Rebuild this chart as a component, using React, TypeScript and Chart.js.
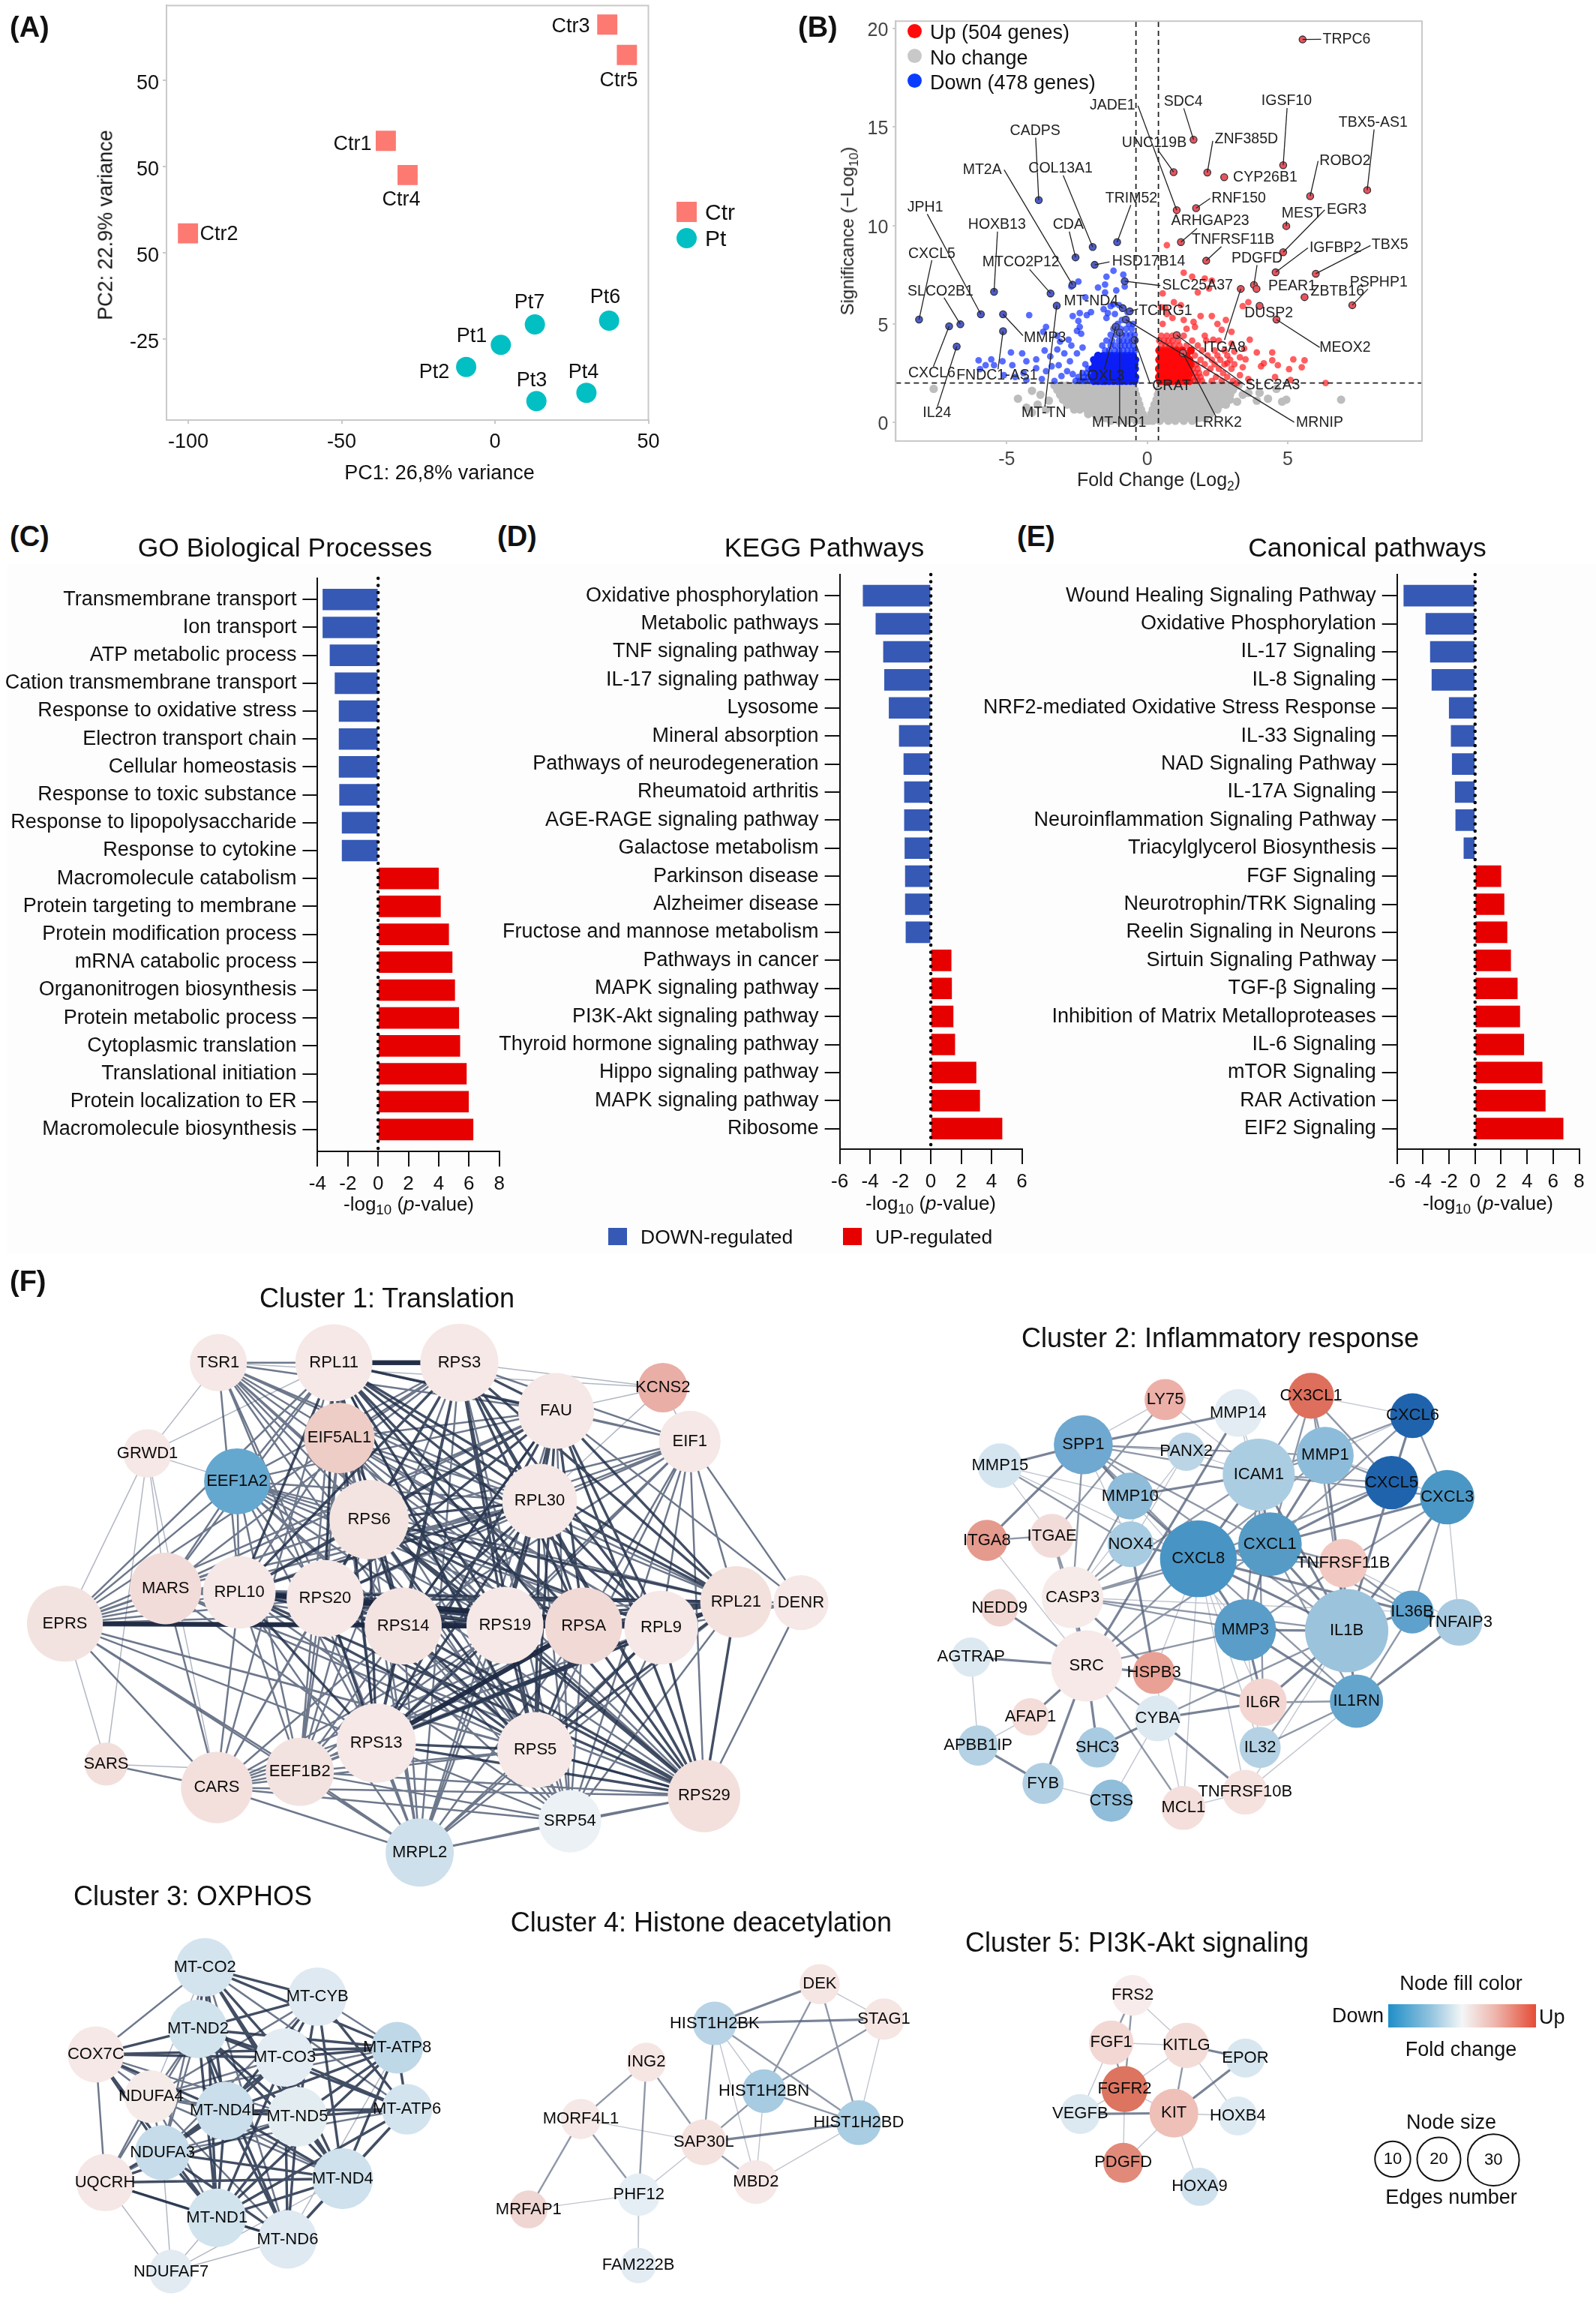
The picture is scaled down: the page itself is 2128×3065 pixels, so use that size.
import React, { useEffect, useRef } from "react";
import { Chart, registerables } from "chart.js";

Chart.register(...registerables);
const FONT = '"Liberation Sans", Arial, sans-serif';
Chart.defaults.font.family = FONT;

/* ---------- Panel A data ---------- */
const pcaCtrNames = ["Ctr1", "Ctr2", "Ctr3", "Ctr4", "Ctr5"];
const pcaCtrX = [-35.6, -100.1, 36.6, -28.5, 43.0];
const pcaCtrY = [32.4, 5.6, 66.1, 22.5, 57.3];
const pcaPtNames = ["Pt1", "Pt2", "Pt3", "Pt4", "Pt6", "Pt7"];
const pcaPtX = [1.9, -9.4, 13.5, 29.8, 37.2, 13];
const pcaPtY = [-26.7, -33.1, -43, -40.6, -19.7, -20.8];
const pcaXTicks = [-100, -50, 0, 50];
const pcaYTicks = [-25, 0, 25, 50];
const pcaYTickLabels = ["-25", "50", "50", "50"];

/* ---------- Panel B data ---------- */
const geneNames = ["TRPC6","SDC4","UNC119B","ZNF385D","CYP26B1","IGSF10","TBX5-AS1","ROBO2","JADE1","RNF150","ARHGAP23","MEST","EGR3","TNFRSF11B","IGFBP2","TBX5","PDGFD","PEAR1","ZBTB16","PSPHP1","DUSP2","MEOX2","ITGA8","SLC2A3","LRRK2","CADPS","MT2A","COL13A1","CDA","TRIM52","JPH1","HOXB13","CXCL5","SLCO2B1","MTCO2P12","HSD17B14","SLC25A37","MT-ND4","TCIRG1","MMP3","MT-TN","FNDC1-AS1","CXCL6","IL24","LOXL3","MT-ND1","CRAT","MRNIP"];
const geneFC = [5.53,1.65,0.94,2.14,2.74,4.84,7.83,5.8,1.05,1.74,1.2,4.95,4.84,2.1,4.57,6.0,3.8,3.89,5.6,7.3,4.0,4.6,3.33,1.05,1.27,-3.86,-2.66,-1.94,-2.55,-1.07,-5.92,-5.45,-8.12,-6.65,-3.44,-1.87,-0.8,-0.87,-0.62,-5.13,-3.22,-5.13,-7.05,-6.78,-1.12,-0.98,-0.45,-0.76];
const geneSig = [19.45,14.36,12.71,12.69,12.45,13.06,11.8,11.49,10.78,10.88,9.16,9.97,8.64,8.21,7.62,7.55,6.98,6.78,6.36,5.95,5.92,5.22,6.78,4.43,3.52,11.29,6.99,8.91,8.38,9.16,5.49,6.63,5.22,4.98,6.55,8.0,7.17,5.8,5.64,5.49,5.93,4.63,4.88,3.85,4.86,4.56,4.18,5.22];
const upRows: [number, number[]][] = [
  [2.1,[.45,.6,.75,.9,1.05,1.2,1.35,1.5,1.65,1.8,1.95,2.3,2.65,3.05]],
  [2.3,[.42,.55,.7,.85,1,1.15,1.3,1.45,1.6,1.75,1.9,2.45,2.85]],
  [2.5,[.48,.62,.78,.92,1.08,1.22,1.38,1.52,1.7,1.85,2.1,2.7]],
  [2.72,[.42,.57,.72,.87,1.02,1.17,1.32,1.48,1.62,1.8,2.25,2.55,3]],
  [2.95,[.5,.65,.8,.95,1.1,1.25,1.4,1.55,1.75,2.05,2.4,2.75,3.1]],
  [3.18,[.43,.58,.73,.88,1.03,1.18,1.33,1.5,1.9,2.3,2.6,2.95]],
  [3.4,[.5,.65,.8,.95,1.1,1.25,1.4,1.7,2.15,2.5,2.85]],
  [3.65,[.43,.58,.73,.88,1.05,1.25,1.55,1.95,2.4,2.75]],
  [3.9,[.5,.65,.8,.95,1.15,1.4,1.8]],
  [4.15,[.43,.6,.75,.9,1.1,1.6,2.1,2.55]],
  [4.4,[.5,.7,.9,1.3]],
];
const upSparse = [[.7,9],[1.3,7.6],[1.6,7.4],[2.05,7.3],[2.3,7.2],[2.2,6.8],[1.8,6.6],[.55,6.55],[.95,6.1],[.5,5.85],[1.2,5.95],[.65,5.8],[3.6,6.1],[3.4,5.9],[.7,5.5],[.9,5.3],[1.3,5.2],[1.65,5.1],[1.9,5.4],[2.3,5.4],[2.5,5],[2.8,5.2],[2.65,4.7],[.55,5],[1.4,4.75],[1.7,4.85],[2.05,4.4],[2.35,4.2],[3,4.6],[3,4],[3.65,4.2],[3.45,3.75],[3.3,3.3],[3.5,3.2],[2.85,3],[3.1,3.6],[3.9,3.55],[4.45,3.15],[4.45,3.55],[4.15,3],[4.05,2.85],[4.65,2.9],[5.2,3.2],[5.6,3.15],[5.05,2.7],[5.5,2.8],[4.55,2.3],[5.1,2.15],[6.35,2],[3.3,2.4],[3.6,2.2],[3.2,2],[3.4,2.8]];
const downRows: [number, number[]][] = [
  [2.1,[-2.55,-2.4,-2.3,-2.2,-2.05,-1.9,-1.75,-1.6,-1.5,-1.35,-1.2,-1.05,-.9,-.75,-.6,-.45]],
  [2.3,[-2.45,-2.25,-2.1,-1.95,-1.8,-1.65,-1.45,-1.3,-1.15,-1,-.85,-.7,-.55,-.42]],
  [2.5,[-2.3,-2.15,-2,-1.85,-1.7,-1.55,-1.4,-1.25,-1.1,-.95,-.8,-.65,-.5]],
  [2.72,[-2.1,-1.95,-1.75,-1.6,-1.45,-1.3,-1.15,-1,-.85,-.7,-.55,-.43]],
  [2.95,[-2.2,-1.85,-1.65,-1.5,-1.35,-1.2,-1.05,-.9,-.75,-.6,-.45]],
  [3.18,[-1.9,-1.7,-1.5,-1.3,-1.15,-1,-.85,-.7,-.55,-.42]],
  [3.4,[-1.75,-1.55,-1.4,-1.25,-1.1,-.95,-.8,-.65,-.5]],
  [3.65,[-1.5,-1.35,-1.15,-1,-.85,-.7,-.55,-.43]],
  [3.9,[-1.6,-1.3,-1.15,-.95,-.8,-.65,-.5]],
  [4.15,[-1.45,-1.25,-1,-.85,-.7,-.55,-.42]],
  [4.45,[-1.3,-1.1,-.9,-.75,-.6,-.45]],
  [4.75,[-1.2,-.95,-.75,-.55]],
  [5,[-1.05,-.65,-.5]],
];
const downSparse = [[-1.2,7.7],[-1.45,7.4],[-.85,7.5],[-1.5,7],[-2.45,7.15],[-2.7,6.9],[-.8,6.9],[-1.75,6.85],[-1.5,6.6],[-1.1,6.7],[-2.2,6.35],[-1.3,5.9],[-1.55,5.75],[-1.2,6],[-1,5.95],[-.7,5.6],[-1.4,5.55],[-1.15,5.5],[-.9,5.2],[-1.45,5.3],[-2,5.6],[-2.15,5.45],[-2.4,5.55],[-2.65,5.4],[-2.45,5.15],[-2.4,4.85],[-2.5,4.65],[-2.35,4.5],[-4.2,5.45],[-3.6,4.85],[-3.7,4.6],[-3.2,4.4],[-3.1,4.1],[-2.8,4.2],[-4.85,3.55],[-4.45,3.5],[-4.3,3.1],[-3.95,3.2],[-3.65,3.65],[-3.45,3.35],[-3.2,3.7],[-2.95,3.5],[-2.7,3.9],[-2.5,3.5],[-2.3,3.8],[-2.75,3.1],[-3.15,2.9],[-3.4,2.85],[-3.6,2.6],[-3.95,2.75],[-4.4,2.5],[-4.8,2.9],[-5.15,3.1],[-5.45,2.9],[-5.55,3.2],[-5.75,2.9],[-6,3.15],[-5.95,2.7],[-5.1,2.4],[-4.7,2.3],[-4.3,2.15],[-3.75,2.2],[-3.3,2.1],[-3.05,2.35],[-2.85,2.6],[-2.65,2.45]];
const noneRows: [number, number[]][] = [
  [1.88,[-3.3,-3.05,-2.85,-2.6,-2.4,-2.2,-2.05,-1.8,-1.6,-1.35,-1.15,-.95,-.7,-.5,.48,.65,.9,1.1,1.35,1.55,1.8,2,2.25,2.45,2.7,2.9,3.1,3.25]],
  [1.65,[-3.2,-3.05,-2.8,-2.6,-2.35,-2.15,-1.9,-1.7,-1.45,-1.25,-1,-.8,-.6,-.45,.42,.55,.8,1,1.25,1.45,1.7,1.9,2.15,2.35,2.6,2.8,3.05]],
  [1.4,[-3.1,-2.95,-2.7,-2.5,-2.25,-2.05,-1.8,-1.6,-1.35,-1.15,-.9,-.7,-.55,-.4,.38,.5,.7,.95,1.15,1.4,1.6,1.85,2.05,2.3,2.5,2.75,2.95]],
  [1.15,[-3,-2.85,-2.6,-2.4,-2.15,-1.95,-1.7,-1.5,-1.25,-1.05,-.8,-.6,-.45,-.33,.33,.42,.65,.85,1.1,1.3,1.55,1.75,2,2.2,2.45,2.7,2.95]],
  [.9,[-2.85,-2.7,-2.5,-2.25,-2.05,-1.8,-1.6,-1.35,-1.15,-.9,-.7,-.5,-.38,-.28,.26,.38,.55,.8,1,1.25,1.45,1.7,1.9,2.15,2.35,2.6,2.8]],
  [.65,[-2.6,-2.4,-2.15,-1.95,-1.7,-1.5,-1.25,-1.05,-.8,-.6,-.42,-.3,-.22,.2,.3,.5,.7,.95,1.15,1.4,1.6,1.85,2.05,2.3,2.5]],
  [.42,[-2.1,-1.85,-1.6,-1.4,-1.15,-.95,-.7,-.5,-.32,-.22,-.16,.14,.22,.45,.65,.9,1.1,1.35,1.55,1.8,2,2.25]],
  [.22,[-1.75,-1.5,-1.3,-1.1,-.9,-.65,-.45,-.25,-.14,.1,.25,.45,.65,.9,1.1,1.35,1.6,1.85,2.05]],
  [.08,[-1.3,-1,-.7,-.4,-.18,-.05,.05,.2,.45,.75,1,1.3,1.6]],
];
const noneSparse = [[-7.6,1.7],[-4.6,1.2],[-4.3,.75],[-4.1,.5],[-3.9,.9],[-4.1,1.6],[-3.8,1.4],[-3.5,1.1],[-3.6,.65],[6.9,1.15],[4.95,1.15],[4.8,1.05],[4.3,1.2],[4,1.5],[3.9,1.1],[3.6,1.5],[3.4,1.4],[4.6,1.7],[3.1,1.8],[3.2,1.05]];
const fcCutoffs = [-0.4, 0.4];
const sigCutoff = 2;
const volcanoXTicks = [-5, 0, 5];
const volcanoYTicks = [0, 5, 10, 15, 20];

/* label centre and leader end, in crop units of the panel (same order as geneNames) */
const geneLabelAt = [[1078,121,1028,121],[757,313,758,333],[700,440,708,463],[881,428,815,433],[918,545,0,0],[960,311,961,332],[1130,378,1132,398],[1075,494,1022,495],[618,325,668,325],[866,610,810,610],[810,680,784,702],[990,657,960,680],[1078,645,1035,645],[855,737,832,758],[1056,762,1002,762],[1163,754,1125,755],[902,795,902,815],[971,881,0,0],[1060,896,0,0],[1141,868,1120,888],[925,962,0,0],[1075,1068,1025,1068],[838,1068,838,1045],[933,1185,878,1183],[826,1300,821,1280],[466,402,467,423],[362,522,405,522],[516,519,521,539],[531,692,533,712],[655,610,654,630],[250,638,254,658],[391,692,392,712],[263,780,263,800],[280,896,287,915],[438,807,455,828],[689,805,612,805],[785,878,712,878],[576,925,620,928],[722,955,668,950],[485,1040,442,1032],[483,1270,485,1250],[391,1155,393,1135],[263,1147,266,1127],[273,1270,274,1250],[597,1156,602,1135],[631,1300,632,1282],[734,1186,692,1180],[1025,1300,975,1298]];

/* ---------- Panels C, D, E data ---------- */
const goCategories = ["Transmembrane transport","Ion transport","ATP metabolic process","Cation transmembrane transport","Response to oxidative stress","Electron transport chain","Cellular homeostasis","Response to toxic substance","Response to lipopolysaccharide","Response to cytokine","Macromolecule catabolism","Protein targeting to membrane","Protein modification process","mRNA catabolic process","Organonitrogen biosynthesis","Protein metabolic process","Cytoplasmic translation","Translational initiation","Protein localization to ER","Macromolecule biosynthesis"];
const goValues = [-3.65,-3.65,-3.18,-2.85,-2.58,-2.58,-2.58,-2.55,-2.38,-2.38,3.99,4.12,4.66,4.89,5.06,5.33,5.4,5.83,5.97,6.27];
const keggCategories = ["Oxidative phosphorylation","Metabolic pathways","TNF signaling pathway","IL-17 signaling pathway","Lysosome","Mineral absorption","Pathways of neurodegeneration","Rheumatoid arthritis","AGE-RAGE signaling pathway","Galactose metabolism","Parkinson disease","Alzheimer disease","Fructose and mannose metabolism","Pathways in cancer","MAPK signaling pathway","PI3K-Akt signaling pathway","Thyroid hormone signaling pathway","Hippo signaling pathway","MAPK signaling pathway","Ribosome"];
const keggValues = [-4.46,-3.62,-3.12,-3.05,-2.75,-2.08,-1.78,-1.74,-1.74,-1.71,-1.68,-1.68,-1.64,1.34,1.37,1.47,1.58,2.98,3.22,4.69];
const canonCategories = ["Wound Healing Signaling Pathway","Oxidative Phosphorylation","IL-17 Signaling","IL-8 Signaling","NRF2-mediated Oxidative Stress Response","IL-33 Signaling","NAD Signaling Pathway","IL-17A Signaling","Neuroinflammation Signaling Pathway","Triacylglycerol Biosynthesis","FGF Signaling","Neurotrophin/TRK Signaling","Reelin Signaling in Neurons","Sirtuin Signaling Pathway","TGF-β Signaling","Inhibition of Matrix Metalloproteases","IL-6 Signaling","mTOR Signaling","RAR Activation","EIF2 Signaling"];
const canonValues = [-5.48,-3.79,-3.44,-3.32,-1.99,-1.84,-1.76,-1.53,-1.49,-0.86,1.99,2.23,2.46,2.74,3.25,3.44,3.75,5.16,5.4,6.77];

/* ---------- Panel F data: name, layout x, layout y, size, fill ---------- */
type Node = [string, number, number, number, string];
const PALE = "#f5e8e6";
const c1Nodes: Node[] = [["TSR1",397,268,104,PALE],["RPL11",607,268,140,PALE],["RPS3",835,268,142,PALE],["KCNS2",1205,333,90,"#e9aea6"],["FAU",1011,394,138,PALE],["EIF1",1254,474,112,PALE],["EIF5AL1",617,465,128,"#eecdc7"],["GRWD1",268,505,88,PALE],["EEF1A2",431,578,120,"#64a8d0"],["RPS6",671,678,144,"#f4e4e1"],["RPL30",981,630,136,PALE],["MARS",301,858,130,"#f2dcd9"],["RPL10",435,868,132,PALE],["RPS20",591,884,140,PALE],["RPL21",1338,893,130,"#f3e1de"],["DENR",1456,895,100,PALE],["EPRS",118,950,138,"#f3e3e0"],["RPS14",733,956,140,"#f4e4e1"],["RPS19",918,954,140,PALE],["RPSA",1061,956,140,"#f1d9d6"],["RPL9",1202,960,134,PALE],["RPS13",684,1262,144,PALE],["RPS5",973,1280,138,PALE],["EEF1B2",545,1337,124,"#f3e3e0"],["SARS",193,1317,78,"#f2dfdc"],["CARS",394,1378,130,"#f3e0dd"],["RPS29",1280,1400,132,"#f3e0dd"],["SRP54",1036,1466,114,"#ecf1f5"],["MRPL2",763,1548,124,"#cde0ec"]];
const c1Heavy = "12:20 13:20 17:18 16:19 17:19 18:19 21:19 1:2";
const c1Thick = "1:4,9,10,12,13,14,17,18,19,20,21,22,26 2:4,9,10,12,13,14,17,18,19,20,21,22,26 4:9,10,12,13,14,17,18,19,20,21,22,26 9:10,12,13,14,17,18,19,20,21,22,26 10:12,13,14,17,18,19,20,21,22,26 12:13,14,17,18,19,21,22,26 13:14,17,18,19,21,22,26 14:17,18,19,20,21,22,26 17:20,21,22,26 18:20,21,22,26 19:20,22,26 20:21,22,26 21:22,26 22:26";
const c1Medium = "0:1,2,4,9,10,13,14,17,18,21,22,12,19,20,26 5:1,2,4,9,10,12,13,14,17,18,19,20,21,22,26,27 6:1,2,4,9,17,18,21,23,10,12,13,14,19,20,22,26 8:1,2,9,13,17,18,19,21,22,23,16,11,10,12,14,20,26,4 11:12,13,16,17,18,19,1,4,25,2,9,10,14,20,21,22,26 16:12,13,25,23,28,21,22,26,17,18,19,1,2,4,9,10,14,20 23:12,13,17,18,21,22,26,25,28,27,4,10,19,1,2,9,14,20 25:24,12,13,21,26,27,28,1,9,17,18,19,20,22,23 27:22,26,28,21,17,19,1,2,4,9,10,12,13,14,18,20 28:21,22,26,17,18,19,13,12,1,2,4,9,10,14,20,23 15:5,14,20,26,19,4";
const c1Thin = "3:2,4,5,10,0 7:0,1,8,16,11,25 24:16,7,23";
const c2Nodes: Node[] = [["LY75",647,286,88,"#ecb0a8"],["MMP14",803,321,102,"#e3ecf3"],["CX3CL1",959,276,98,"#de6f5d"],["CXCL6",1176,328,96,"#1f63ad"],["SPP1",472,404,126,"#6fa8d0"],["PANX2",692,422,82,"#bcd5e6"],["ICAM1",847,482,154,"#abcde2"],["MMP1",989,432,122,"#8cbcda"],["MMP15",294,459,96,"#d5e5ef"],["MMP10",572,538,100,"#8ebcd9"],["CXCL5",1131,503,114,"#1f63ad"],["CXCL3",1250,541,116,"#4a97c6"],["ITGA8",266,654,88,"#e59a8e"],["ITGAE",405,642,94,"#f2dcd9"],["NOX4",573,664,98,"#a7cbe1"],["CXCL8",718,702,164,"#4895c5"],["CXCL1",871,664,136,"#559bc6"],["TNFRSF11B",1028,714,104,"#f2c9c2"],["CASP3",449,803,132,"#f6ebe9"],["NEDD9",293,830,80,"#f1d5d1"],["MMP3",818,888,132,"#5a9dc8"],["IL1B",1035,890,178,"#9cc3dc"],["IL36B",1175,841,92,"#5ea1cc"],["TNFAIP3",1275,868,100,"#a9cbe1"],["AGTRAP",232,959,84,"#dde9f0"],["SRC",479,982,152,"#f6e9e7"],["HSPB3",623,1000,90,"#e9a195"],["IL6R",856,1077,102,"#f3d6d1"],["IL1RN",1056,1074,114,"#64a5ce"],["CYBA",631,1119,98,"#dce9f1"],["AFAP1",359,1115,80,"#f4dcd8"],["APBB1IP",247,1190,86,"#b5d2e4"],["SHC3",502,1195,86,"#a9cbe1"],["IL32",850,1195,88,"#b5d2e4"],["FYB",386,1289,88,"#b0cfe3"],["CTSS",532,1334,90,"#90bdd9"],["MCL1",686,1353,94,"#f4dfdc"],["TNFRSF10B",818,1312,96,"#f5e2df"]];
const c2Thick = "4:1,8,12,9 16:11,15,21,20 3:10 9:6 15:14,21,20,9,22 21:28,22,20,17,11,10,27,6,7 6:15,16 7:16 10:16 18:25,26 25:19,24,30,34,32,26 29:37,27 26:27 34:31 1:25 14:26 20:27,28 28:23 29:32";
const c2Medium = "18:15,16,20,21,6,9,14 25:15,16,20,36,29 4:15,16,18,6,7,21 2:6,7,16,10,21 3:11,16,6 11:22,17 6:7,10,11,20,27 7:10,15 10:15 15:17,28 16:17,22,28 17:22 20:17 22:28 33:21,28 27:28 0:13 12:13 8:14 29:21 13:18,25";
const c2Thin = "0:4,6 2:3 8:13,9,21 12:25 5:4,14,18,6 1:6,16 7:11 11:23 3:7 24:31 30:31 34:35 36:37,26,15 37:28,21,15 35:29 33:15,20 27:15 26:15 18:22 23:17 4:14,20";
const c3Nodes: Node[] = [["MT-CO2",357,383,102,"#d4e4ee"],["MT-CYB",553,488,102,"#dfe9f1"],["MT-ND2",345,603,102,"#d1e3ed"],["COX7C",167,694,98,PALE],["MT-CO3",496,705,102,"#e3ecf2"],["MT-ATP8",692,670,90,"#bfd8e8"],["NDUFA4",263,845,92,"#f5ebe9"],["MT-ND4L",392,896,102,"#cadfeb"],["MT-ND5",518,917,104,"#e3edf1"],["MT-ATP6",709,890,88,"#d3e4ee"],["NDUFA3",283,1045,96,"#c6dcea"],["UQCRH",183,1152,100,"#f5e7e5"],["MT-ND4",597,1138,106,"#cee1ec"],["MT-ND1",378,1278,102,"#d1e3ed"],["MT-ND6",501,1355,102,"#dfe9f1"],["NDUFAF7",298,1470,76,"#e2ebf2"]];
const c3Thick = "0:1,2,4,5,7,8,12,13 1:2,4,7,8,9,12 2:3,4,5,7,8,9,12,13,14 3:4,5,7,10,13 4:5,7,9,12,13,14 5:7,8,9,13,12 7:8,9,12,13,14,10 8:9,12,13,14 9:12,13,14 10:12,13,14,4 11:12,13,7,8 12:13,14 13:14";
const c3Medium = "0:3,9,14,10 1:5,10,6 2:6,10,11 3:6,11,8,12 4:6,8 6:7,8,10,11,12,13,14,5 10:11,8,9 11:14";
const c3Thin = "15:10,11,13,14,12 5:14 0:6";
const c4Nodes: Node[] = [["DEK",1428,443,70,"#f5e6e4"],["HIST1H2BK",1245,583,76,"#b8d4e6"],["STAG1",1540,568,72,"#f5e5e3"],["ING2",1126,722,68,"#f5e6e4"],["HIST1H2BN",1331,825,76,"#a7cbe1"],["MORF4L1",1012,925,70,PALE],["HIST1H2BD",1496,938,78,"#a9cde2"],["SAP30L",1226,1008,80,"#f4e2df"],["MBD2",1317,1150,76,PALE],["PHF12",1113,1195,74,"#e6eef5"],["MRFAP1",921,1248,66,"#efd6d2"],["FAM222B",1112,1448,62,"#e3ecf3"]];
const c4Thick = "0:1 1:2 6:7";
const c4Medium = "0:4,6 1:7,6 3:5,7,9 5:10,9 4:7,6 7:8 2:4";
const c4Thin = "0:2 1:8,4 2:6 5:7 4:8 6:8 7:9 9:10,11";
const c5Nodes: Node[] = [["FRS2",524,483,92,"#f7eceb"],["FGF1",476,652,100,"#f2d7d2"],["KITLG",645,662,102,"#f3dcd8"],["EPOR",778,707,88,"#d8e6ef"],["FGFR2",506,818,104,"#dc7460"],["VEGFB",406,907,90,"#dde9f1"],["KIT",617,904,110,"#efc0b8"],["HOXB4",761,914,88,"#deeaf2"],["PDGFD",503,1081,90,"#e28a7a"],["HOXA9",675,1167,86,"#cfe1ed"]];
const c5Thick = "2:3 3:6 5:6";
const c5Medium = "0:1,4 1:4 2:6";
const c5Thin = "0:2 1:2,5 2:4,7 4:5,6,8 6:7,8,9";
const sizeLegendNodes: Node[] = [["10",1110,1068,80,"#ffffff"],["20",1214,1068,98,"#ffffff"],["30",1337,1071,116,"#ffffff"]];

/* ---------- helpers ---------- */
const rowsToPoints = (rows: [number, number[]][], sparse: number[][]) => [
  ...rows.flatMap(([y, xs]) => xs.map((x) => ({ x, y }))),
  ...sparse.map(([x, y]) => ({ x, y })),
];
const zip = (xs: number[], ys: number[]) => xs.map((x, i) => ({ x, y: ys[i] }));

function fitAxes(o: { y?: number; x?: number }) {
  return (a: any) => {
    if (a.isHorizontal()) a.height = o.x ?? a.height;
    else a.width = o.y ?? a.width;
    a.paddingLeft = a.paddingRight = a.paddingTop = a.paddingBottom = 0;
  };
}

function ChartBox({ rect, make }: { rect: number[]; make: () => any }) {
  const ref = useRef<HTMLCanvasElement>(null);
  useEffect(() => {
    const chart = new Chart(ref.current as any, make());
    return () => chart.destroy();
  }, []);
  return (
    <canvas
      ref={ref}
      width={rect[2]}
      height={rect[3]}
      style={{ position: "absolute", left: rect[0], top: rect[1], width: rect[2], height: rect[3] }}
    />
  );
}

function T({ x, y, s = 27, a = "c", b, rot, c = "#111", children }: any) {
  const tx = a === "c" ? "-50%" : a === "l" ? "0" : "-100%";
  return (
    <div
      style={{
        position: "absolute", left: x, top: y, fontFamily: FONT, fontSize: s, lineHeight: 1,
        fontWeight: b ? 700 : 400, color: c, whiteSpace: "nowrap",
        transform: `translate(${tx},-50%)${rot ? ` rotate(${rot}deg)` : ""}`,
      }}
    >
      {children}
    </div>
  );
}

function Box({ x, y, w, h, c, r, st }: any) {
  return <div style={{ position: "absolute", left: x, top: y, width: w, height: h, background: c, borderRadius: r, ...st }} />;
}

/* ---------- panel configs ---------- */
const AX = "#c9c9c9";
function makePca() {
  const labels: [string, number, number][] = [["Ctr1",470,193],["Ctr2",292,313],["Ctr3",761,36],["Ctr4",535,267],["Ctr5",825,108],["Pt1",629,449],["Pt2",579,497],["Pt3",709,508],["Pt4",778,497],["Pt6",807,397],["Pt7",706,404]];
  return {
    type: "scatter",
    data: {
      datasets: [
        { label: "Ctr", data: zip(pcaCtrX, pcaCtrY), pointStyle: "rect", pointRadius: 19, backgroundColor: "#FC7A72", borderWidth: 0 },
        { label: "Pt", data: zip(pcaPtX, pcaPtY), pointStyle: "circle", pointRadius: 13.5, backgroundColor: "#02BFC4", borderWidth: 0 },
      ],
    },
    options: {
      animation: false, responsive: false, maintainAspectRatio: false,
      layout: { autoPadding: false, padding: { left: 0, top: 47.4, right: 199.5, bottom: 0 } },
      plugins: { legend: { display: false }, tooltip: { enabled: false } },
      scales: {
        x: {
          type: "linear", bounds: "data", min: -107.1, max: 50, afterFit: fitAxes({ x: 120 }), afterBuildTicks: (a: any) => { a.ticks = pcaXTicks.map((value) => ({ value })); },
          border: { color: AX, width: 2 }, grid: { drawOnChartArea: false, color: AX, tickLength: 5, lineWidth: 2 },
          ticks: { color: "#111", font: { size: 27 }, padding: 8, maxRotation: 0, autoSkip: false },
        },
        y: {
          type: "linear", bounds: "data", min: -48.5, max: 71.6, afterFit: fitAxes({ y: 222 }), afterBuildTicks: (a: any) => { a.ticks = pcaYTicks.map((value) => ({ value })); },
          border: { color: AX, width: 2 }, grid: { drawOnChartArea: false, color: AX, tickLength: 5, lineWidth: 2 },
          ticks: { color: "#111", font: { size: 27 }, padding: 5, labelOffset: 4.5, autoSkip: false, callback: (v: number) => pcaYTickLabels[pcaYTicks.indexOf(v)] },
        },
      },
    },
    plugins: [
      {
        id: "pcaNotes",
        afterDraw(ch: any) {
          const { ctx, chartArea: ar } = ch;
          ctx.save();
          ctx.strokeStyle = AX; ctx.lineWidth = 2;
          ctx.strokeRect(ar.left, ar.top, ar.right - ar.left, ar.bottom - ar.top);
          ctx.fillStyle = "#111"; ctx.font = `27px ${FONT}`; ctx.textAlign = "center"; ctx.textBaseline = "middle";
          labels.forEach(([t, x, y]) => ctx.fillText(t, x, y + 40));
          ctx.restore();
        },
      },
    ],
  };
}

function makeVolcano() {
  const fx = 1064 / 1568, fy = 680 / 1568;
  const genePts = zip(geneFC, geneSig);
  const up = geneFC.map((v) => v > 0);
  const upPts = rowsToPoints(upRows, upSparse);
  const downPts = rowsToPoints(downRows, downSparse);
  return {
    type: "scatter",
    data: {
      datasets: [
        { label: "fc-", data: [{ x: fcCutoffs[0], y: -0.95 }, { x: fcCutoffs[0], y: 20.38 }], showLine: true, pointRadius: 0, borderColor: "#222", borderWidth: 1.8, borderDash: [7, 5] },
        { label: "fc+", data: [{ x: fcCutoffs[1], y: -0.95 }, { x: fcCutoffs[1], y: 20.38 }], showLine: true, pointRadius: 0, borderColor: "#222", borderWidth: 1.8, borderDash: [7, 5] },
        { label: "sig", data: [{ x: -8.95, y: sigCutoff }, { x: 9.78, y: sigCutoff }], showLine: true, pointRadius: 0, borderColor: "#222", borderWidth: 1.8, borderDash: [7, 5] },
        { label: "Labelled", data: genePts, pointRadius: 4.6, pointBorderWidth: 1.3, pointBorderColor: "#30303a", pointBackgroundColor: up.map((u) => (u ? "#E8555C" : "#4E5CCB")) },
        {
          label: "Up (504 genes)", data: upPts,
          pointRadius: upPts.map((p) => (p.x < 1.6 && p.y < 3.7 ? 5.4 : 4.4)),
          pointBackgroundColor: upPts.map((p) => (p.x < 1.6 && p.y < 3.7 ? "rgb(255,8,10)" : "rgba(255,25,30,0.7)")), pointBorderWidth: 0,
        },
        {
          label: "Down (478 genes)", data: downPts,
          pointRadius: downPts.map((p) => (p.x > -2 && p.y < 3.5 ? 5.2 : 4.4)),
          pointBackgroundColor: downPts.map((p) => (p.x > -2 && p.y < 3.5 ? "rgb(12,30,245)" : "rgba(15,45,255,0.7)")), pointBorderWidth: 0,
        },
        { label: "No change", data: rowsToPoints(noneRows, noneSparse), pointRadius: 5.6, pointBackgroundColor: "#bdbdbd", pointBorderWidth: 0 },
      ],
    },
    options: {
      animation: false, responsive: false, maintainAspectRatio: false,
      layout: { autoPadding: false, padding: { left: 0, top: 28.2, right: 232, bottom: 0 } },
      plugins: { legend: { display: false }, tooltip: { enabled: false } },
      scales: {
        x: {
          type: "linear", bounds: "data", min: -8.95, max: 9.78, afterFit: fitAxes({ x: 92 }), afterBuildTicks: (a: any) => { a.ticks = volcanoXTicks.map((value) => ({ value })); },
          border: { color: AX, width: 2 }, grid: { drawOnChartArea: false, color: AX, tickLength: 4, lineWidth: 2 },
          ticks: { color: "#444", font: { size: 25 }, padding: 6, maxRotation: 0, autoSkip: false },
        },
        y: {
          type: "linear", bounds: "data", min: -0.95, max: 20.38, afterFit: fitAxes({ y: 130.3 }), afterBuildTicks: (a: any) => { a.ticks = volcanoYTicks.map((value) => ({ value })); },
          border: { color: AX, width: 2 }, grid: { drawOnChartArea: false, color: AX, tickLength: 4, lineWidth: 2 },
          ticks: { color: "#444", font: { size: 25 }, padding: 6, labelOffset: 3, autoSkip: false },
        },
      },
    },
    plugins: [
      {
        id: "volcanoNotes",
        afterDatasetsDraw(ch: any) {
          const { ctx, chartArea: ar, scales } = ch;
          ctx.save();
          ctx.strokeStyle = AX; ctx.lineWidth = 2;
          ctx.strokeRect(ar.left, ar.top, ar.right - ar.left, ar.bottom - ar.top);
          ctx.strokeStyle = "#222"; ctx.lineWidth = 1.3;
          geneLabelAt.forEach((g, i) => {
            if (!g[2]) return;
            ctx.beginPath();
            ctx.moveTo(g[2] * fx, g[3] * fy);
            ctx.lineTo(scales.x.getPixelForValue(geneFC[i]), scales.y.getPixelForValue(geneSig[i]));
            ctx.stroke();
          });
          ctx.fillStyle = "#222"; ctx.font = `19.5px ${FONT}`; ctx.textAlign = "center"; ctx.textBaseline = "middle";
          geneLabelAt.forEach((g, i) => ctx.fillText(geneNames[i], g[0] * fx, g[1] * fy));
          ctx.restore();
        },
      },
    ],
  };
}

function makeBar(
  cats: string[], vals: number[], rect: number[],
  plot: { left: number; right: number; top: number; bottom: number },
  x: { min: number; max: number }, y: { min: number; max: number },
) {
  const [cl, ct, cw, ch] = rect;
  return {
    type: "bar",
    data: {
      labels: cats,
      datasets: [{ data: vals.map((v, i) => ({ x: v, y: i })), backgroundColor: vals.map((v) => (v < 0 ? "#3659B6" : "#E60000")), barThickness: 28, borderWidth: 0 }],
    },
    options: {
      indexAxis: "y", animation: false, responsive: false, maintainAspectRatio: false,
      layout: { autoPadding: false, padding: { left: 0, top: plot.top - ct, right: cl + cw - plot.right, bottom: 0 } },
      plugins: { legend: { display: false }, tooltip: { enabled: false } },
      scales: {
        x: {
          type: "linear", bounds: "data", min: x.min, max: x.max, afterFit: fitAxes({ x: ct + ch - plot.bottom }), ticks: { stepSize: 2, color: "#111", font: { size: 26 }, padding: 8, maxRotation: 0, autoSkip: false },
          border: { color: "#111", width: 2 }, grid: { drawOnChartArea: false, color: "#111", tickLength: 20, lineWidth: 2 },
        },
        y: {
          type: "linear", bounds: "data", offset: false, reverse: true, min: y.min, max: y.max, afterFit: fitAxes({ y: plot.left - cl }),
          afterBuildTicks: (a: any) => { a.ticks = cats.map((_, value) => ({ value })); },
          ticks: { color: "#111", font: { size: 27 }, padding: 8, autoSkip: false, callback: (v: number) => cats[v] },
          border: { color: "#111", width: 2 }, grid: { offset: false, drawOnChartArea: false, color: "#111", tickLength: 20, lineWidth: 2 },
        },
      },
    },
    plugins: [
      {
        id: "zeroDots",
        afterDatasetsDraw(c: any) {
          const { ctx, chartArea: ar, scales } = c;
          const px = scales.x.getPixelForValue(0);
          ctx.save();
          ctx.strokeStyle = "#000"; ctx.lineWidth = 4.5; ctx.lineCap = "round"; ctx.setLineDash([0, 9.5]);
          ctx.beginPath(); ctx.moveTo(px, ar.top); ctx.lineTo(px, ar.bottom + 3); ctx.stroke();
          ctx.restore();
        },
      },
    ],
  };
}

function edgeData(nodes: Node[], spec: string) {
  const pts: { x: number; y: number }[] = [];
  spec.split(" ").forEach((part) => {
    if (!part) return;
    const [a, list] = part.split(":");
    list.split(",").forEach((b) => {
      const A = nodes[+a], B = nodes[+b];
      pts.push({ x: A[1], y: A[2] }, { x: B[1], y: B[2] }, { x: NaN, y: NaN });
    });
  });
  return pts;
}

function makeNetwork(nodes: Node[], rect: number[], cropW: number, cropH: number, edges: string[], outline = false, heavy = "", soft = false) {
  const fx = cropW / 1568, fy = cropH / 1568;
  const edgeStyles = soft
    ? [
        { borderColor: "rgba(88,100,125,0.8)", borderWidth: 3.2 },
        { borderColor: "rgba(100,112,135,0.72)", borderWidth: 2.4 },
        { borderColor: "rgba(150,158,175,0.6)", borderWidth: 1.4 },
      ]
    : [
        { borderColor: "rgba(33,47,73,0.85)", borderWidth: 3.4 },
        { borderColor: "rgba(62,75,102,0.75)", borderWidth: 2.5 },
        { borderColor: "rgba(125,135,155,0.6)", borderWidth: 1.5 },
      ];
  return {
    type: "scatter",
    data: {
      datasets: [
        {
          label: "Genes",
          data: nodes.map((n) => ({ x: n[1], y: n[2] })),
          pointRadius: nodes.map((n) => (n[3] * fx) / 2),
          pointBackgroundColor: nodes.map((n) => n[4]),
          pointBorderColor: outline ? "#111" : "rgba(0,0,0,0)",
          pointBorderWidth: outline ? 2 : 0,
        },
        ...(heavy
          ? [{ label: "edgesHeavy", data: edgeData(nodes, heavy), showLine: true, spanGaps: false, pointRadius: 0, borderColor: "rgba(28,40,65,0.95)", borderWidth: 6.5 }]
          : []),
        ...edges.map((e, i) => ({
          label: `edges${i}`, data: edgeData(nodes, e), showLine: true, spanGaps: false, pointRadius: 0, ...edgeStyles[i],
        })),
      ],
    },
    options: {
      animation: false, responsive: false, maintainAspectRatio: false,
      layout: { autoPadding: false, padding: 0 },
      plugins: { legend: { display: false }, tooltip: { enabled: false } },
      scales: {
        x: { type: "linear", bounds: "data", display: false, min: 0, max: rect[2] / fx },
        y: { type: "linear", bounds: "data", display: false, reverse: true, min: 0, max: rect[3] / fy },
      },
    },
    plugins: [
      {
        id: "nodeNames",
        afterDatasetsDraw(c: any) {
          const { ctx, scales } = c;
          ctx.save();
          ctx.fillStyle = "#0c0c0c"; ctx.font = `22px ${FONT}`; ctx.textAlign = "center"; ctx.textBaseline = "middle";
          nodes.forEach((n) => ctx.fillText(n[0], scales.x.getPixelForValue(n[1]), scales.y.getPixelForValue(n[2])));
          ctx.restore();
        },
      },
    ],
  };
}

const LOG = (
  <span>-log<sub style={{ fontSize: "0.72em", verticalAlign: "-0.25em", lineHeight: 0 }}>10</sub> (<i>p</i>-value)</span>
);

export default function App() {
  const rC = [0, 740, 700, 900], rD = [650, 740, 760, 900], rE = [1290, 740, 838, 900];
  return (
    <div style={{ position: "absolute", left: 0, top: 0, width: 2128, height: 3065, overflow: "hidden", background: "#fff" }}>
      <Box x={10} y={752} w={2118} h={920} c="#fdfdfd" />
      <ChartBox rect={[0, -40, 1064, 720]} make={makePca} />
      <ChartBox rect={[1064, 0, 1064, 680]} make={makeVolcano} />
      <ChartBox rect={rC} make={() => makeBar(goCategories, goValues, rC, { left: 423.4, right: 665.7, top: 771, bottom: 1535.3 }, { min: -4, max: 8 }, { min: -0.76, max: 19.79 })} />
      <ChartBox rect={rD} make={() => makeBar(keggCategories, keggValues, rD, { left: 1119.6, right: 1362.6, top: 766, bottom: 1532 }, { min: -6, max: 6 }, { min: -0.754, max: 19.73 })} />
      <ChartBox rect={rE} make={() => makeBar(canonCategories, canonValues, rE, { left: 1862.7, right: 2105.5, top: 766, bottom: 1532 }, { min: -6, max: 8 }, { min: -0.754, max: 19.73 })} />
      <ChartBox rect={[0, 1680, 1150, 900]} make={() => makeNetwork(c1Nodes, [0, 1680, 1150, 900], 1150, 800, [c1Thick, c1Medium, c1Thin], false, c1Heavy)} />
      <ChartBox rect={[1150, 1720, 978, 800]} make={() => makeNetwork(c2Nodes, [1150, 1720, 978, 800], 978, 800, [c2Thick, c2Medium, c2Thin], false, "", true)} />
      <ChartBox rect={[0, 2480, 1200, 585]} make={() => makeNetwork(c3Nodes, [0, 2480, 1200, 585], 1200, 585, [c3Thick, c3Medium, c3Thin])} />
      <ChartBox rect={[0, 2480, 1400, 585]} make={() => makeNetwork(c4Nodes, [0, 2480, 1400, 585], 1200, 585, [c4Thick, c4Medium, c4Thin], false, "", true)} />
      <ChartBox rect={[1200, 2480, 928, 585]} make={() => makeNetwork(c5Nodes, [1200, 2480, 928, 585], 928, 585, [c5Thick, c5Medium, c5Thin], false, "", true)} />
      <ChartBox rect={[1200, 2480, 928, 585]} make={() => makeNetwork(sizeLegendNodes, [1200, 2480, 928, 585], 928, 585, [], true)} />

      {/* panel letters */}
      <T x={13} y={36} s={38} a="l" b>(A)</T>
      <T x={1064} y={36} s={38} a="l" b>(B)</T>
      <T x={13} y={715} s={38} a="l" b>(C)</T>
      <T x={663} y={715} s={38} a="l" b>(D)</T>
      <T x={1356} y={715} s={38} a="l" b>(E)</T>
      <T x={13} y={1708} s={38} a="l" b>(F)</T>

      {/* panel A text and legend */}
      <T x={141} y={300} rot={-90} s={27}>PC2: 22.9% variance</T>
      <T x={586} y={630} s={27}>PC1: 26,8% variance</T>
      <Box x={902} y={269} w={27} h={27} c="#FC7A72" />
      <Box x={902} y={304} w={27} h={27} c="#02BFC4" r="50%" />
      <T x={940} y={283} s={30} a="l">Ctr</T>
      <T x={940} y={318} s={30} a="l">Pt</T>

      {/* panel B text and legend */}
      <T x={1130} y={308} rot={-90} s={24} c="#222">Significance (−Log<sub style={{ fontSize: "0.7em", lineHeight: 0 }}>10</sub>)</T>
      <T x={1545} y={639} s={25} c="#222">Fold Change (Log<sub style={{ fontSize: "0.7em", lineHeight: 0 }}>2</sub>)</T>
      <Box x={1210} y={32} w={19} h={19} c="#FF0A0A" r="50%" />
      <Box x={1210} y={65} w={19} h={19} c="#c8c8c8" r="50%" />
      <Box x={1210} y={98} w={19} h={19} c="#0A3CFF" r="50%" />
      <T x={1240} y={43} s={27} a="l">Up (504 genes)</T>
      <T x={1240} y={77} s={27} a="l">No change</T>
      <T x={1240} y={110} s={27} a="l">Down (478 genes)</T>

      {/* panels C, D, E titles */}
      <T x={380} y={731} s={35.5}>GO Biological Processes</T>
      <T x={1099} y={731} s={35.5}>KEGG Pathways</T>
      <T x={1823} y={731} s={35.5}>Canonical pathways</T>
      <T x={545} y={1605} s={26}>{LOG}</T>
      <T x={1241} y={1604} s={26}>{LOG}</T>
      <T x={1984} y={1604} s={26}>{LOG}</T>
      <Box x={811} y={1637} w={25} h={23} c="#3659B6" />
      <T x={854} y={1649} s={26.5} a="l">DOWN-regulated</T>
      <Box x={1124} y={1637} w={25} h={23} c="#E60000" />
      <T x={1167} y={1649} s={26.5} a="l">UP-regulated</T>

      {/* panel F titles */}
      <T x={516} y={1731} s={36}>Cluster 1: Translation</T>
      <T x={1627} y={1784} s={36}>Cluster 2: Inflammatory response</T>
      <T x={257} y={2528} s={36}>Cluster 3: OXPHOS</T>
      <T x={935} y={2563} s={36}>Cluster 4: Histone deacetylation</T>
      <T x={1516} y={2590} s={36}>Cluster 5: PI3K-Akt signaling</T>

      {/* colour and size legends */}
      <T x={1948} y={2644} s={27}>Node fill color</T>
      <div style={{ position: "absolute", left: 1851, top: 2672, width: 197, height: 31, background: "linear-gradient(90deg,#1f8fc8 0%,#8fc2de 28%,#f4f6f7 50%,#eeb7ae 72%,#e44c36 100%)" }} />
      <T x={1845} y={2687} s={27} a="r">Down</T>
      <T x={2052} y={2689} s={27} a="l">Up</T>
      <T x={1948} y={2732} s={27}>Fold change</T>
      <T x={1935} y={2829} s={27}>Node size</T>
      <T x={1935} y={2929} s={27}>Edges number</T>
    </div>
  );
}
